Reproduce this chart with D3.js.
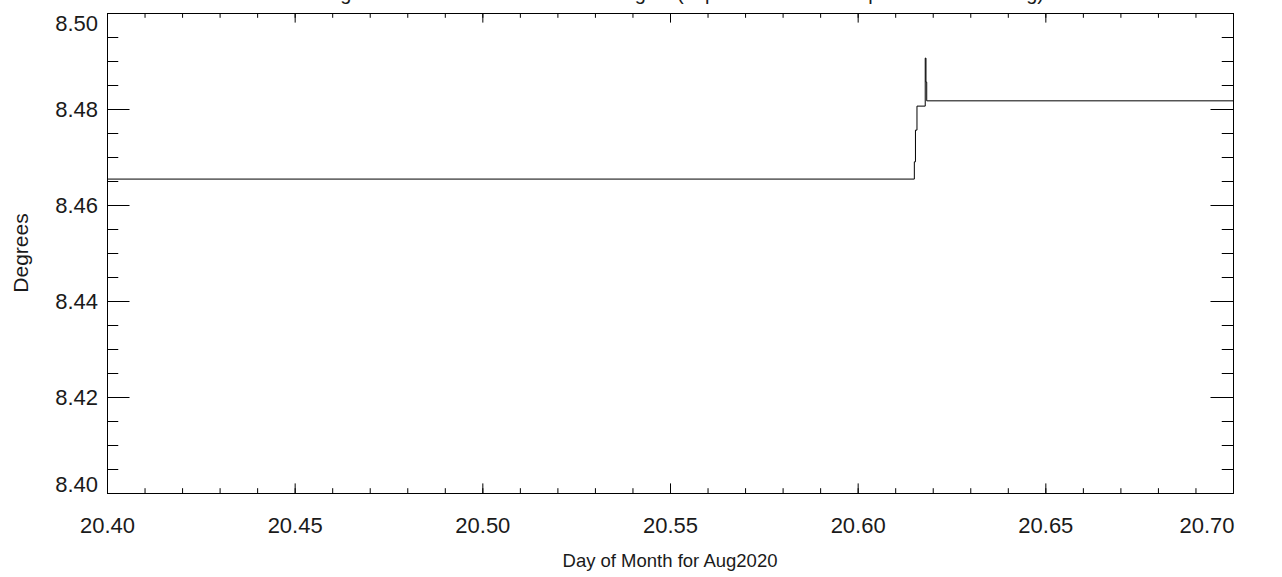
<!DOCTYPE html>
<html>
<head>
<meta charset="utf-8">
<script src="https://cdn.jsdelivr.net/npm/d3@7"></script>
<style>
  html, body { margin: 0; padding: 0; background: #fff; }
  svg { display: block; }
  text { font-family: "Liberation Sans", Arial, Helvetica, sans-serif; fill: #1a1a1a; }
</style>
</head>
<body>
<script>
// ---- data ----
const titleText = "Solar Hinge Mechanism Rotation Mean Angles (supervised mode step command setting)";
const xLabel = "Day of Month for Aug2020";
const yLabel = "Degrees";
const xTicks = [20.40, 20.45, 20.50, 20.55, 20.60, 20.65, 20.70];
const yTicks = [8.40, 8.42, 8.44, 8.46, 8.48, 8.50];
// step series: value holds from each time until the next time
const times  = [20.4000, 20.6151, 20.6154, 20.6158, 20.6180, 20.6182, 20.6184, 20.7000];
const values = [8.4654, 8.4690, 8.4756, 8.4806, 8.4906, 8.4856, 8.4817, 8.4817];

// ---- layout ----
const W = 1282, H = 577;
const m = { left: 107, right: 1233, top: 13, bottom: 493 };

const svg = d3.select("body").append("svg").attr("width", W).attr("height", H);
svg.append("rect").attr("width", W).attr("height", H).attr("fill", "#fff");

const x = d3.scaleLinear().domain([20.40, 20.70]).range([m.left, m.right]);
const y = d3.scaleLinear().domain([8.40, 8.50]).range([m.bottom, m.top]);

const xMinor = d3.range(0, 31).map(i => 20.40 + i * 0.01);
const yMinor = d3.range(0, 21).map(i => 8.40 + i * 0.005);
const xMaj = 9.6, yMaj = 22.5;
const labelFont = '"Liberation Sans", Arial, Helvetica, sans-serif';

function styleAxis(g) {
  g.selectAll("path.domain").attr("stroke", "#000").attr("stroke-width", 1);
  g.selectAll(".tick line").attr("stroke", "#000").attr("stroke-width", 1);
}

// bottom
svg.append("g").attr("transform", `translate(0,${m.bottom})`)
  .call(d3.axisBottom(x).tickValues(xMinor).tickSize(-xMaj / 2).tickSizeOuter(0).tickFormat(""))
  .call(styleAxis);
const gb = svg.append("g").attr("transform", `translate(0,${m.bottom})`)
  .call(d3.axisBottom(x).tickValues(xTicks).tickSize(-xMaj).tickSizeOuter(0).tickPadding(24).tickFormat(d3.format(".2f")))
  .call(styleAxis);
gb.selectAll("text").attr("font-size", 22).attr("fill", "#1a1a1a").style("font-family", labelFont);
// last x label kept inside the frame's right edge
gb.selectAll(".tick").filter((d, i, n) => i === n.length - 1).select("text")
  .attr("text-anchor", "end").attr("x", 1);
// top
svg.append("g").attr("transform", `translate(0,${m.top})`)
  .call(d3.axisTop(x).tickValues(xMinor).tickSize(-xMaj / 2).tickSizeOuter(0).tickFormat(""))
  .call(styleAxis);
svg.append("g").attr("transform", `translate(0,${m.top})`)
  .call(d3.axisTop(x).tickValues(xTicks).tickSize(-xMaj).tickSizeOuter(0).tickFormat(""))
  .call(styleAxis);
// left
svg.append("g").attr("transform", `translate(${m.left},0)`)
  .call(d3.axisLeft(y).tickValues(yMinor).tickSize(-yMaj / 2).tickSizeOuter(0).tickFormat(""))
  .call(styleAxis);
const gl = svg.append("g").attr("transform", `translate(${m.left},0)`)
  .call(d3.axisLeft(y).tickValues(yTicks).tickSize(-yMaj).tickSizeOuter(0).tickPadding(9).tickFormat(d3.format(".2f")))
  .call(styleAxis);
gl.selectAll("text").attr("font-size", 22).attr("fill", "#1a1a1a").style("font-family", labelFont);
// end labels nudged inward, as in the reference
const ylab = gl.selectAll(".tick text");
ylab.filter((d, i) => i === 0).attr("y", -9);
ylab.filter((d, i, n) => i === n.length - 1).attr("y", 10);
// right
svg.append("g").attr("transform", `translate(${m.right},0)`)
  .call(d3.axisRight(y).tickValues(yMinor).tickSize(-yMaj / 2).tickSizeOuter(0).tickFormat(""))
  .call(styleAxis);
svg.append("g").attr("transform", `translate(${m.right},0)`)
  .call(d3.axisRight(y).tickValues(yTicks).tickSize(-yMaj).tickSizeOuter(0).tickFormat(""))
  .call(styleAxis);

// data line
const pts = times.map((t, i) => [t, values[i]]);
svg.append("path")
  .datum(pts)
  .attr("fill", "none")
  .attr("stroke", "#000")
  .attr("stroke-width", 1)
  .attr("d", d3.line().x(d => x(d[0])).y(d => y(d[1])).curve(d3.curveStepAfter));

// titles
svg.append("text").attr("x", 258).attr("y", -0.5).attr("font-size", 20).text(titleText);
svg.append("text").attr("x", (m.left + m.right) / 2).attr("y", 567)
  .attr("text-anchor", "middle").attr("font-size", 18.5).text(xLabel);
svg.append("text").attr("transform", `translate(28,${(m.top + m.bottom) / 2}) rotate(-90)`)
  .attr("text-anchor", "middle").attr("font-size", 21).text(yLabel);
</script>
</body>
</html>
